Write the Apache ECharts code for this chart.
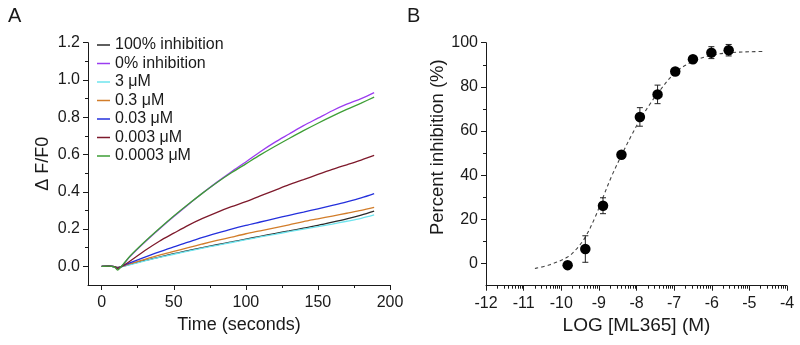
<!DOCTYPE html>
<html>
<head>
<meta charset="utf-8">
<script src="https://cdn.jsdelivr.net/npm/echarts@6/dist/echarts.min.js"></script>
<style>
  html, body { margin: 0; padding: 0; background: #fff; }
  #chart { width: 800px; height: 345px; }
</style>
</head>
<body>
<div id="chart"></div>
<script>
// ---------- Panel A: calcium flux traces ----------
const timeS = [0, 5, 9, 11, 13, 15, 20, 30, 40, 50, 60, 70, 80, 90, 100, 110, 120, 130, 140, 150, 160, 170, 180, 189];
const inh100 = [0, 0.001, -0.002, -0.006, -0.003, 0.001, 0.012, 0.032, 0.05, 0.068, 0.085, 0.1, 0.116, 0.131, 0.146, 0.161, 0.176, 0.19, 0.205, 0.22, 0.237, 0.255, 0.275, 0.296];
const inh0 = [0, 0.002, -0.003, -0.015, -0.005, 0.01, 0.055, 0.13, 0.2, 0.267, 0.331, 0.393, 0.452, 0.508, 0.56, 0.615, 0.665, 0.71, 0.755, 0.795, 0.835, 0.87, 0.9, 0.932];
const conc3uM = [0, 0.001, -0.002, -0.006, -0.003, 0.0, 0.01, 0.03, 0.048, 0.065, 0.082, 0.098, 0.113, 0.128, 0.143, 0.158, 0.172, 0.186, 0.2, 0.213, 0.227, 0.242, 0.258, 0.276];
const conc03uM = [0, 0.001, -0.002, -0.007, -0.003, 0.002, 0.015, 0.038, 0.06, 0.08, 0.1, 0.12, 0.139, 0.157, 0.175, 0.191, 0.207, 0.223, 0.24, 0.255, 0.27, 0.285, 0.3, 0.316];
const conc003uM = [0, 0.001, -0.002, -0.008, -0.003, 0.004, 0.02, 0.05, 0.078, 0.105, 0.13, 0.155, 0.178, 0.2, 0.22, 0.238, 0.256, 0.274, 0.291, 0.309, 0.327, 0.346, 0.367, 0.39];
const conc0003uM = [0, 0.001, -0.002, -0.01, -0.004, 0.005, 0.03, 0.085, 0.135, 0.178, 0.22, 0.257, 0.29, 0.32, 0.347, 0.378, 0.408, 0.438, 0.465, 0.493, 0.52, 0.545, 0.57, 0.595];
const conc00003uM = [0, 0.001, -0.004, -0.02, -0.006, 0.012, 0.058, 0.133, 0.203, 0.27, 0.333, 0.393, 0.45, 0.502, 0.55, 0.598, 0.643, 0.686, 0.728, 0.768, 0.806, 0.842, 0.876, 0.908];

const traceNames = ['100% inhibition', '0% inhibition', '3 μM', '0.3 μM', '0.03 μM', '0.003 μM', '0.0003 μM'];
const traceColors = ['#2a2a2a', '#9b3cf0', '#6ee4ee', '#d27d2a', '#2430dc', '#7e1a2c', '#3e9e36'];
const traceValues = [inh100, inh0, conc3uM, conc03uM, conc003uM, conc0003uM, conc00003uM];

const timeTicks = [0, 50, 100, 150, 200];
const timeMinorTicks = [25, 75, 125, 175];
const ratioTicks = [0, 0.2, 0.4, 0.6, 0.8, 1.0, 1.2];
const ratioMinorTicks = [0.1, 0.3, 0.5, 0.7, 0.9, 1.1];

// ---------- Panel B: concentration-response ----------
const logConc = [-9.83, -9.36, -8.89, -8.40, -7.91, -7.44, -6.97, -6.50, -6.01, -5.55];
const percentInh = [-0.7, 6.6, 26.2, 49.3, 66.4, 76.6, 87.0, 92.5, 95.5, 96.6];
const percentErr = [0.8, 6.0, 3.6, 1.0, 4.2, 4.2, 1.0, 1.0, 2.7, 2.6];
const fitX = [-10.7, -10.3, -9.83, -9.6, -9.36, -9.1, -8.89, -8.65, -8.4, -8.15, -7.91, -7.65, -7.44, -6.97, -6.5, -6.01, -5.55, -5.0, -4.64];
const fitY = [-2.2, -0.5, 3.0, 6.5, 12, 21, 30, 40, 49, 57.5, 65, 72, 77, 86.5, 91.5, 94.3, 95.4, 95.9, 96.0];

const logTicks = [-12, -11, -10, -9, -8, -7, -6, -5, -4];
const pctTicks = [0, 20, 40, 60, 80, 100];
const pctMinorTicks = [10, 30, 50, 70, 90];
// log-scale minor ticks (2..9 within each decade)
const logMinorTicks = [];
for (let d = -12; d < -4; d++) {
  for (let k = 2; k <= 9; k++) logMinorTicks.push(d + Math.log10(k));
}

const FONT = '"Liberation Sans", Arial, Helvetica, sans-serif';
const INK = '#1a1a1a';

function majorAxis(extra) {
  return Object.assign({
    type: 'value',
    axisLine: { show: true, onZero: false, lineStyle: { color: INK, width: 1 } },
    axisTick: { show: true, length: 5, lineStyle: { color: INK, width: 1 } },
    axisLabel: { color: INK, fontSize: 16, fontFamily: FONT, margin: 8 },
    splitLine: { show: false },
    nameTextStyle: { color: INK, fontFamily: FONT }
  }, extra);
}
function minorAxis(extra, ticks) {
  return Object.assign({
    type: 'value',
    axisLine: { show: false, onZero: false },
    axisTick: { show: true, length: 3, customValues: ticks, lineStyle: { color: INK, width: 1 } },
    axisLabel: { show: false },
    splitLine: { show: false }
  }, extra);
}

const chart = echarts.init(document.getElementById('chart'), null, { renderer: 'canvas' });

const lineSeries = traceNames.map((name, i) => ({
  name: name,
  type: 'line',
  xAxisIndex: 0,
  yAxisIndex: 0,
  data: timeS.map((t, j) => [t, traceValues[i][j]]),
  showSymbol: false,
  symbol: 'none',
  smooth: 0.3,
  color: traceColors[i],
  lineStyle: { width: 1.3, color: traceColors[i] },
  z: 2 + i
}));

const option = {
  animation: false,
  backgroundColor: '#fff',
  textStyle: { fontFamily: FONT },
  graphic: [
    { type: 'text', left: 8, top: 6, style: { text: 'A', fontSize: 20, fontFamily: FONT, fill: INK } },
    { type: 'text', left: 407, top: 6, style: { text: 'B', fontSize: 20, fontFamily: FONT, fill: INK } }
  ],
  legend: {
    data: traceNames,
    orient: 'vertical',
    left: 97,
    top: 37,
    padding: 0,
    icon: 'rect',
    itemWidth: 13,
    itemHeight: 1.5,
    itemGap: 2.5,
    selectedMode: false,
    textStyle: { color: INK, fontSize: 16, fontFamily: FONT, lineHeight: 16 }
  },
  grid: [
    { left: 88, top: 42.7, width: 302, height: 242.3 },
    { left: 486, top: 42.7, width: 301, height: 243 }
  ],
  xAxis: [
    majorAxis({
      gridIndex: 0, min: -9.5, max: 200, position: 'bottom',
      axisTick: { show: true, length: 5, customValues: timeTicks, lineStyle: { color: INK, width: 1 } },
      axisLabel: { color: INK, fontSize: 16, fontFamily: FONT, margin: 10, customValues: timeTicks, formatter: v => String(v) },
      name: 'Time (seconds)', nameLocation: 'middle', nameGap: 28,
      nameTextStyle: { color: INK, fontSize: 18, fontFamily: FONT }
    }),
    minorAxis({ gridIndex: 0, min: -9.5, max: 200, position: 'bottom' }, timeMinorTicks),
    majorAxis({
      gridIndex: 1, min: -12, max: -4, position: 'bottom',
      axisTick: { show: true, length: 5, customValues: logTicks, lineStyle: { color: INK, width: 1 } },
      axisLabel: { color: INK, fontSize: 16, fontFamily: FONT, margin: 10, customValues: logTicks, formatter: v => String(v) },
      name: 'LOG [ML365] (M)', nameLocation: 'middle', nameGap: 29,
      nameTextStyle: { color: INK, fontSize: 19, fontFamily: FONT }
    }),
    minorAxis({ gridIndex: 1, min: -12, max: -4, position: 'bottom' }, logMinorTicks)
  ],
  yAxis: [
    majorAxis({
      gridIndex: 0, min: -0.1, max: 1.2, position: 'left',
      axisTick: { show: true, length: 5, customValues: ratioTicks, lineStyle: { color: INK, width: 1 } },
      axisLabel: { color: INK, fontSize: 16, fontFamily: FONT, margin: 8, customValues: ratioTicks, formatter: v => Number(v).toFixed(1) },
      name: 'Δ F/F0', nameLocation: 'middle', nameGap: 36,
      nameTextStyle: { color: INK, fontSize: 18, fontFamily: FONT }
    }),
    minorAxis({ gridIndex: 0, min: -0.1, max: 1.2, position: 'left' }, ratioMinorTicks),
    majorAxis({
      gridIndex: 1, min: -10, max: 100, position: 'left',
      axisTick: { show: true, length: 5, customValues: pctTicks, lineStyle: { color: INK, width: 1 } },
      axisLabel: { color: INK, fontSize: 16, fontFamily: FONT, margin: 8, customValues: pctTicks, formatter: v => String(v) },
      name: 'Percent inhibition (%)', nameLocation: 'middle', nameGap: 37,
      nameTextStyle: { color: INK, fontSize: 18.5, fontFamily: FONT, padding: [0, 0, 0, 34] }
    }),
    minorAxis({ gridIndex: 1, min: -10, max: 100, position: 'left' }, pctMinorTicks)
  ],
  series: lineSeries.concat([
    {
      name: 'fit',
      type: 'line',
      xAxisIndex: 2,
      yAxisIndex: 2,
      data: fitX.map((x, i) => [x, fitY[i]]),
      symbol: 'none',
      smooth: 0.35,
      lineStyle: { color: '#444', width: 1.1, type: [3.5, 3] },
      z: 2
    },
    {
      name: 'sem',
      type: 'custom',
      xAxisIndex: 2,
      yAxisIndex: 2,
      data: logConc.map((x, i) => [x, percentInh[i] - percentErr[i], percentInh[i] + percentErr[i]]),
      renderItem: function (params, api) {
        const lo = api.coord([api.value(0), api.value(1)]);
        const hi = api.coord([api.value(0), api.value(2)]);
        const w = 3;
        const st = { stroke: '#222', lineWidth: 1 };
        return {
          type: 'group',
          children: [
            { type: 'line', shape: { x1: lo[0], y1: lo[1], x2: hi[0], y2: hi[1] }, style: st },
            { type: 'line', shape: { x1: lo[0] - w, y1: lo[1], x2: lo[0] + w, y2: lo[1] }, style: st },
            { type: 'line', shape: { x1: hi[0] - w, y1: hi[1], x2: hi[0] + w, y2: hi[1] }, style: st }
          ]
        };
      },
      z: 3
    },
    {
      name: 'mean',
      type: 'scatter',
      xAxisIndex: 2,
      yAxisIndex: 2,
      data: logConc.map((x, i) => [x, percentInh[i]]),
      symbol: 'circle',
      symbolSize: 10.5,
      itemStyle: { color: '#000', opacity: 1 },
      z: 4
    }
  ])
};

chart.setOption(option);
</script>
</body>
</html>
